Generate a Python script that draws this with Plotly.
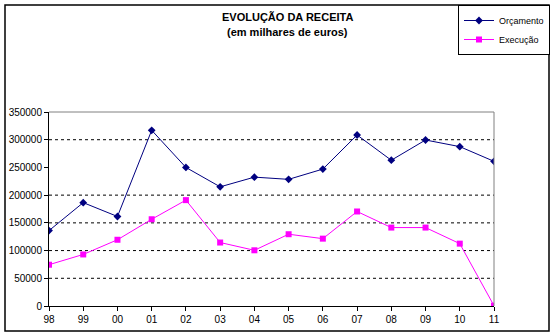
import plotly.graph_objects as go

# Revenue evolution, budget vs. execution (thousands of euros)
years = ["98", "99", "00", "01", "02", "03", "04", "05", "06", "07", "08", "09", "10", "11"]
orcamento = [136000, 186500, 161500, 317000, 250000, 215000, 232500, 228500, 247000,
             308500, 263000, 299500, 287500, 261000]
execucao = [74500, 93000, 119500, 156500, 191000, 114500, 100500, 129500, 121500,
            170500, 141500, 141500, 112500, 500]
y_ticks = [0, 50000, 100000, 150000, 200000, 250000, 300000, 350000]
grid_values = [50000, 100000, 150000, 200000, 300000]

W, H = 555, 336
L, R, T, B = 49, 61, 112, 30
pw, ph = W - L - R, H - T - B


def px_x(px):
    return (px - L) / pw


def px_y(py):
    return (H - B - py) / ph


xs = list(range(len(years)))
font = "Liberation Sans, Arial, sans-serif"

fig = go.Figure()
fig.add_trace(go.Scatter(
    x=xs, y=orcamento, name="Orçamento", mode="lines+markers",
    line=dict(color="#000080", width=1),
    marker=dict(symbol="diamond", size=6, color="#000080"),
))
fig.add_trace(go.Scatter(
    x=xs, y=execucao, name="Execução", mode="lines+markers",
    line=dict(color="#FF00FF", width=1),
    marker=dict(symbol="square", size=6, color="#FF00FF"),
))

shapes = []
for g in grid_values:
    shapes.append(dict(type="line", xref="paper", yref="y", x0=0, x1=1, y0=g, y1=g,
                       line=dict(color="black", width=1, dash="dot"), layer="below"))
# plot-area frame (top and right in grey)
shapes.append(dict(type="line", xref="paper", yref="paper", x0=0, x1=1, y0=1, y1=1,
                   line=dict(color="#808080", width=1)))
shapes.append(dict(type="line", xref="paper", yref="paper", x0=1, x1=1, y0=0, y1=1,
                   line=dict(color="#808080", width=1)))
# outer chart border
shapes.append(dict(type="rect", xref="paper", yref="paper",
                   x0=px_x(5), x1=px_x(549), y0=px_y(331), y1=px_y(5),
                   line=dict(color="black", width=1.5)))

fig.update_layout(
    width=W, height=H,
    margin=dict(l=L, r=R, t=T, b=B, autoexpand=False),
    paper_bgcolor="white", plot_bgcolor="white",
    font=dict(family=font, size=10, color="black"),
    showlegend=True,
    legend=dict(
        x=px_x(458), y=px_y(5), xanchor="left", yanchor="top",
        bordercolor="black", borderwidth=1, bgcolor="white",
        font=dict(size=9), tracegroupgap=0, itemwidth=30,
    ),
    shapes=shapes,
    annotations=[
        dict(text="<b>EVOLUÇÃO DA RECEITA</b>", xref="paper", yref="paper",
             x=px_x(287), y=px_y(17), xanchor="center", yanchor="middle",
             showarrow=False, font=dict(size=11, family=font)),
        dict(text="<b>(em milhares de euros)</b>", xref="paper", yref="paper",
             x=px_x(287), y=px_y(32), xanchor="center", yanchor="middle",
             showarrow=False, font=dict(size=11, family=font)),
    ],
)
fig.update_xaxes(
    range=[0, len(years) - 1], tickvals=xs, ticktext=years,
    showline=True, linecolor="black", linewidth=1,
    ticks="outside", ticklen=4, tickcolor="black",
    showgrid=False, zeroline=False, fixedrange=True,
    tickfont=dict(size=10),
)
fig.update_yaxes(
    range=[0, 350000], tickvals=y_ticks, ticktext=[str(v) for v in y_ticks],
    showline=True, linecolor="black", linewidth=1,
    ticks="outside", ticklen=4, tickcolor="black",
    showgrid=False, zeroline=False, fixedrange=True,
    tickfont=dict(size=10),
)

fig.write_html("out.html")
